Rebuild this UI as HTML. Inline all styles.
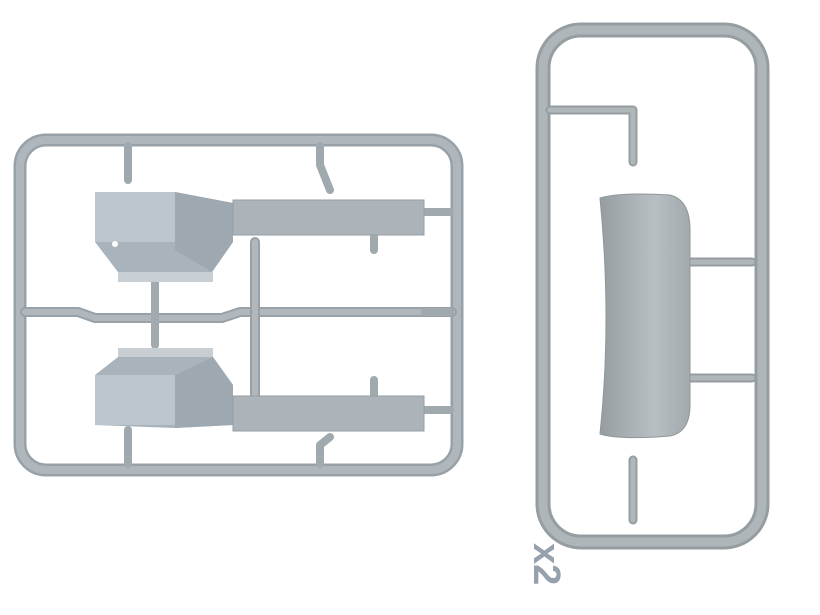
<!DOCTYPE html>
<html><head><meta charset="utf-8"><style>
html,body{margin:0;padding:0;background:#fff;width:820px;height:615px;overflow:hidden}
svg{display:block}
</style></head><body>
<svg width="820" height="615" viewBox="0 0 820 615" xmlns="http://www.w3.org/2000/svg">
<defs>
<linearGradient id="tire" x1="0" x2="1" y1="0" y2="0">
<stop offset="0" stop-color="#959da1"/><stop offset="0.3" stop-color="#a7afb3"/><stop offset="0.6" stop-color="#b8bfc2"/><stop offset="1" stop-color="#a2aaae"/>
</linearGradient>
</defs>
<g fill="none" stroke-linecap="round" stroke-linejoin="round">
<!-- left sprue -->
<rect x="20" y="140" width="437" height="330" rx="26" stroke="#97a1a7" stroke-width="13"/>
<rect x="20" y="140" width="437" height="330" rx="26" stroke="#afb7bc" stroke-width="8"/>
<path d="M25 312 H78 L95 318 H222 L240 312 H452" stroke="#97a1a7" stroke-width="10"/>
<path d="M25 312 H78 L95 318 H222 L240 312 H452" stroke="#b0b8bd" stroke-width="6"/>
<path d="M255 242 V395" stroke="#97a1a7" stroke-width="10"/>
<path d="M255 242 V395" stroke="#b0b8bd" stroke-width="6"/>
<path d="M155 278 V345" stroke="#a2abb0" stroke-width="8"/>
<path d="M128 146 V180 M128 430 V464 M320 146 V165 L330 190 M320 464 V445 L330 437 M425 212 H450 M425 312 H450 M425 410 H450 M374 235 V250 M374 395 V380" stroke="#a0a9ae" stroke-width="8"/>
<!-- right sprue -->
<rect x="543" y="30" width="219" height="512" rx="38" stroke="#959da1" stroke-width="15"/>
<rect x="543" y="30" width="219" height="512" rx="38" stroke="#afb6b9" stroke-width="9"/>
<path d="M550 110 H633 V162 M633 460 V520 M690 262 H752 M690 378 H752" stroke="#969ea2" stroke-width="9"/>
<path d="M550 110 H633 V162 M633 460 V520 M690 262 H752 M690 378 H752" stroke="#b0b7ba" stroke-width="5"/>
</g>
<!-- upper box -->
<polygon points="95,192 175,192 233,203 233,242 212,272 118,272 95,242" fill="#a9b3bb"/>
<polygon points="95,192 175,192 175,242 95,242" fill="#bcc5cc"/>
<polygon points="175,192 233,203 233,242 212,272 175,250" fill="#9ea8b1"/>
<rect x="118" y="272" width="95" height="10" fill="#c8cfd4"/>
<circle cx="115" cy="244" r="3" fill="#fff"/>
<rect x="233" y="200" width="191" height="35" fill="#acb4ba" stroke="#959ea5"/>
<!-- lower box -->
<rect x="118" y="348" width="95" height="9" fill="#c8cfd4"/>
<polygon points="95,375 118,357 213,357 233,385 233,425 175,428 95,425" fill="#a9b3bb"/>
<polygon points="95,375 175,375 175,425 95,425" fill="#bcc5cc"/>
<polygon points="175,375 213,357 233,385 233,425 175,428" fill="#9ea8b1"/>
<rect x="233" y="396" width="191" height="35" fill="#acb4ba" stroke="#959ea5"/>
<!-- tire -->
<path d="M600 198 Q620 192 670 195 Q690 200 690 230 V405 Q690 432 670 436 Q620 440 600 434 Q612 320 600 198 Z" fill="url(#tire)" stroke="#8f979b"/>
<text x="0" y="0" transform="translate(534,543) rotate(90)" font-family="Liberation Sans, sans-serif" font-weight="bold" font-size="38" fill="#97a1ad">x2</text>
</svg>
</body></html>
